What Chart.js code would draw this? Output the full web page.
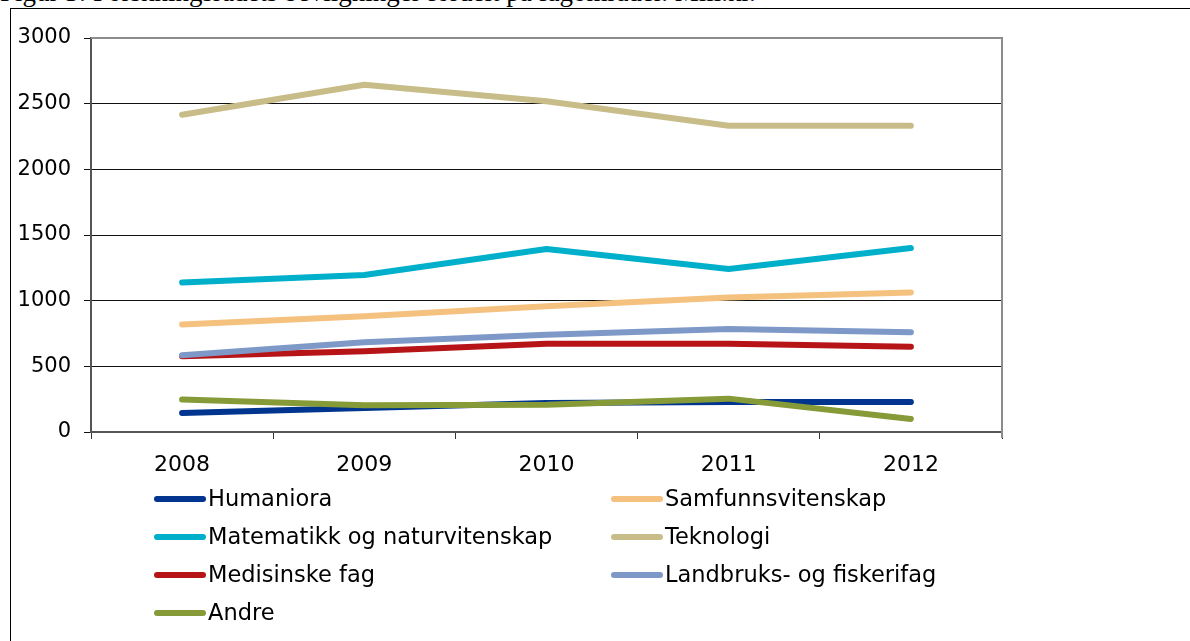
<!DOCTYPE html>
<html>
<head>
<meta charset="utf-8">
<script src="https://cdn.jsdelivr.net/npm/chart.js@4"></script>
<style>
  html, body { margin: 0; padding: 0; background: #fff; overflow: hidden; }
  #wrap { position: relative; width: 1190px; height: 641px; }
  #title { position: absolute; left: 0; top: -21px; line-height: 27px; font-family: "Liberation Serif", serif; font-size: 27px; white-space: nowrap; color: #000; }
  #frame { position: absolute; left: 10px; top: 8px; width: 1180px; height: 640px; border-top: 1px solid #000; border-left: 1px solid #000; }
  #chart_box { position: absolute; left: 0; top: 0; width: 1190px; height: 641px; }
</style>
</head>
<body>
<div id="wrap">
  <div id="title">Figur 3: Forskningsrådets bevilgninger fordelt på fagområder. Mill.kr.</div>
  <div id="frame"></div>
  <div id="chart_box"><canvas id="line_chart" width="1190" height="641"></canvas></div>
</div>
<script>
const years = ["2008", "2009", "2010", "2011", "2012"];

const humaniora = [145, 183, 221, 228, 228];
const samfunnsvitenskap = [819, 882, 957, 1025, 1063];
const matematikk = [1139, 1195, 1393, 1241, 1401];
const teknologi = [2415, 2644, 2518, 2332, 2332];
const medisinske = [577, 615, 672, 672, 650];
const landbruk = [585, 684, 741, 784, 759];
const andre = [247, 203, 208, 254, 99];

const series_names = [
  "Humaniora",
  "Samfunnsvitenskap",
  "Matematikk og naturvitenskap",
  "Teknologi",
  "Medisinske fag",
  "Landbruks- og fiskerifag",
  "Andre",
];
const series_data = [humaniora, samfunnsvitenskap, matematikk, teknologi, medisinske, landbruk, andre];
const series_colors = ["#00358f", "#f5c17e", "#00b0cb", "#c8bd89", "#b71418", "#7e99c8", "#869a37"];

const font_name = "'DejaVu Sans', Verdana, sans-serif";

let line_datasets = [];
series_names.forEach((name, i) => {
  line_datasets.push({
    label: name,
    data: series_data[i],
    borderColor: series_colors[i],
    backgroundColor: series_colors[i],
    borderWidth: 6,
    pointRadius: 0,
    borderCapStyle: "round",
    borderJoinStyle: "round",
    tension: 0,
    order: series_names.length - i, // later series on top, like excel
  });
});

// two column legend under the axis
const legend_plugin = {
  id: "two_col_legend",
  afterDraw(chart) {
    const ctx = chart.ctx;
    const cols = [157, 614];
    const rows = [499, 537, 575, 613];
    ctx.save();
    ctx.font = "22.5px " + font_name;
    ctx.textBaseline = "middle";
    ctx.fillStyle = "#000";
    chart.data.datasets.forEach((ds, i) => {
      const x = cols[i % 2];
      const y = rows[Math.floor(i / 2)];
      ctx.strokeStyle = ds.borderColor;
      ctx.lineWidth = 6;
      ctx.lineCap = "round";
      ctx.beginPath();
      ctx.moveTo(x, y);
      ctx.lineTo(x + 46, y);
      ctx.stroke();
      ctx.fillText(ds.label, x + 51, y + 1);
    });
    ctx.restore();
  },
};

// gray frame on top and right side of plot area
const plot_border = {
  id: "plot_border",
  beforeDatasetsDraw(chart) {
    const a = chart.chartArea;
    const ctx = chart.ctx;
    ctx.save();
    ctx.strokeStyle = "#8c8c8c";
    ctx.lineWidth = 2;
    ctx.beginPath();
    ctx.moveTo(a.left, a.top);
    ctx.lineTo(a.right, a.top);
    ctx.lineTo(a.right, a.bottom + 6);
    ctx.stroke();
    ctx.restore();
  },
};

const line_ctx = document.getElementById("line_chart");

const line_chart = new Chart(line_ctx, {
  type: "line",
  data: {
    labels: years,
    datasets: line_datasets,
  },
  plugins: [plot_border, legend_plugin],
  options: {
    responsive: false,
    animation: false,
    layout: {
      padding: { left: 0, top: 38, right: 188, bottom: 159 },
    },
    plugins: {
      legend: { display: false },
      tooltip: { enabled: false },
    },
    scales: {
      x: {
        offset: true,
        afterFit: (scale) => { scale.height = 50; },
        grid: {
          offset: true,
          display: true,
          drawOnChartArea: false,
          color: "#333",
          tickLength: 7,
        },
        border: { color: "#555", width: 2 },
        ticks: {
          color: "#000",
          padding: 13,
          font: { family: font_name, size: 22 },
        },
      },
      y: {
        min: 0,
        max: 3000,
        afterFit: (scale) => { scale.width = 91; },
        grid: {
          color: "#111",
          tickLength: 7,
        },
        border: { color: "#555", width: 2 },
        ticks: {
          stepSize: 500,
          color: "#000",
          padding: 13,
          font: { family: font_name, size: 21 },
          callback: (v) => String(v),
        },
      },
    },
  },
});
</script>
</body>
</html>
